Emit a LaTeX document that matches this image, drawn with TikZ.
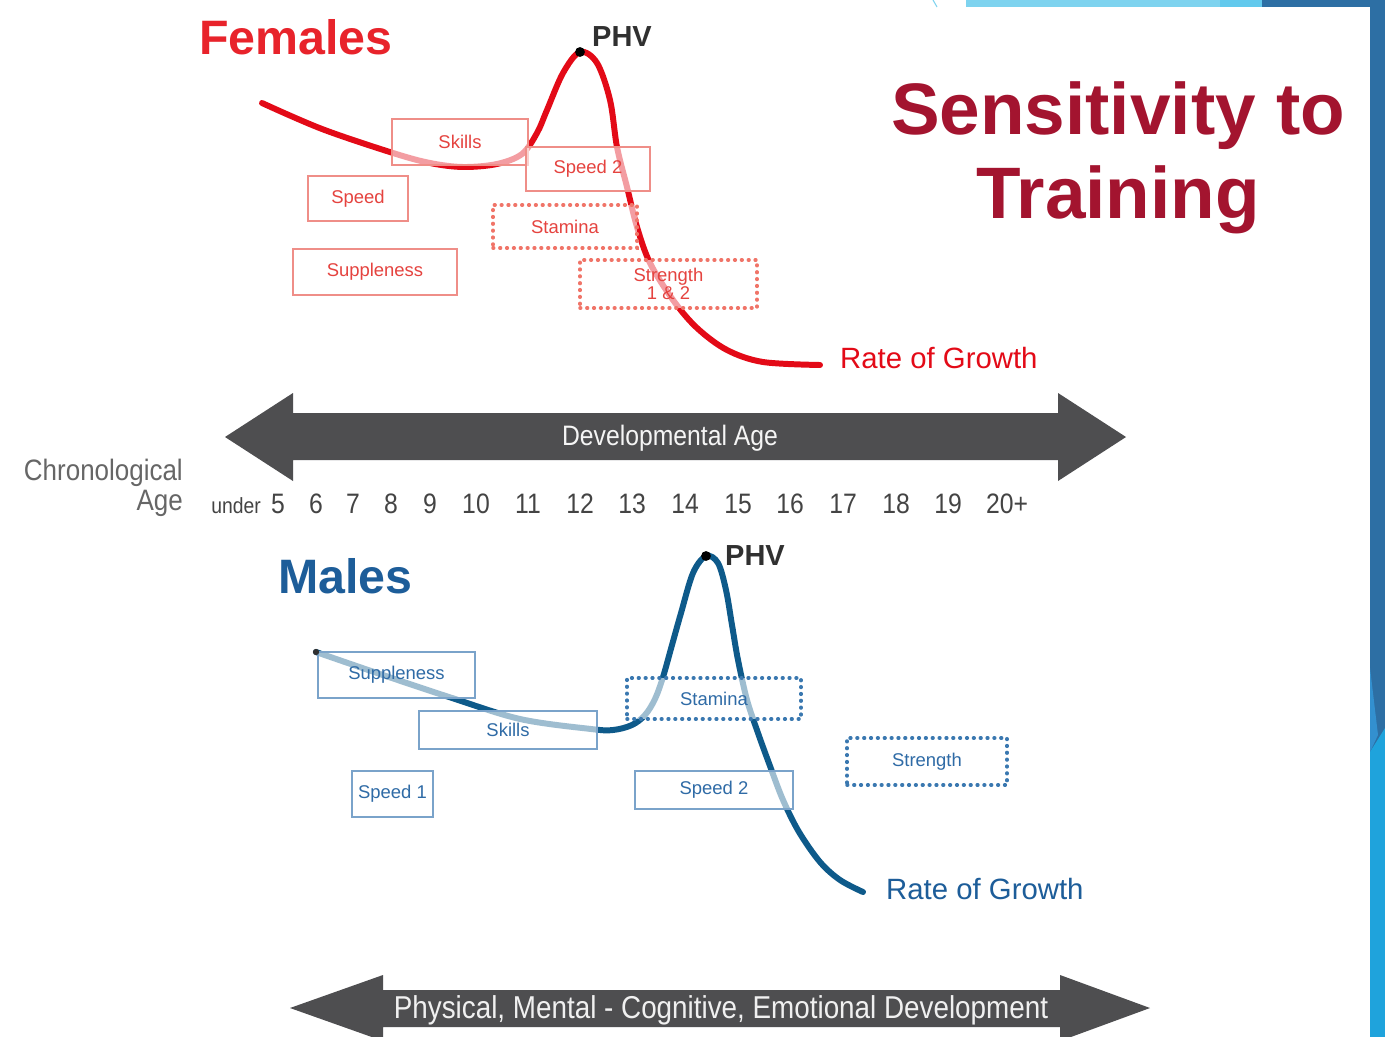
\documentclass[tikz,border=0pt]{standalone}
\usepackage{fontspec}
\setmainfont{Liberation Sans}
\newfontfamily\narrowfont[FakeStretch=0.88]{Liberation Sans}
\usepackage{tikz}
\usetikzlibrary{calc}

\definecolor{femred}{HTML}{E30A17}
\definecolor{femtitle}{HTML}{E8232B}
\definecolor{redline}{HTML}{EF8E88}
\definecolor{redtext}{HTML}{E5433F}
\definecolor{reddots}{HTML}{F07468}
\definecolor{sensred}{HTML}{A3142F}
\definecolor{malblue}{HTML}{0E5A8A}
\definecolor{maltitle}{HTML}{1D5D99}
\definecolor{blueline}{HTML}{7AA3CA}
\definecolor{bluetext}{HTML}{2F6BA6}
\definecolor{bluedots}{HTML}{3A78B0}
\definecolor{bandgray}{HTML}{4E4E50}
\definecolor{agegray}{HTML}{666666}
\definecolor{numgray}{HTML}{444444}
\definecolor{phvgray}{HTML}{303030}
\definecolor{trimdark}{HTML}{2D6FA4}
\definecolor{trimmid}{HTML}{3390CF}
\definecolor{trimlight}{HTML}{1FA3DC}
\definecolor{trimpale}{HTML}{7ED3EF}
\definecolor{trimsky}{HTML}{61C9ED}

\tikzset{
  growth/.style={line width=3.4pt, line cap=round},
  sz/.style 2 args={minimum width=#1*0.02cm, minimum height=#2*0.02cm},
  abox/.style={fill=white, fill opacity=0.6, text opacity=1, inner sep=0pt,
    align=center, font=\fontsize{10.5}{10.5}\selectfont},
  rbox/.style={abox, draw=redline, line width=0.8pt, text=redtext},
  rdots/.style={abox, draw=reddots, line width=2pt, line cap=round,
    dash pattern=on 0.4pt off 3.5pt, text=redtext},
  bbox/.style={abox, draw=blueline, line width=0.8pt, text=bluetext},
  bdots/.style={abox, draw=bluedots, line width=2pt, line cap=round,
    dash pattern=on 0.4pt off 3.5pt, text=bluetext},
  phv/.style={font=\fontsize{16.5}{18}\selectfont\bfseries, text=phvgray, anchor=base west},
  rog/.style={font=\fontsize{16.7}{18}\selectfont, anchor=base west},
  agenum/.style={font=\narrowfont\fontsize{16}{18}\selectfont, text=numgray, anchor=base},
}

\begin{document}
\begin{tikzpicture}[x=0.02cm, y=-0.02cm]
\fill[white] (0,0) rectangle (1385,1037);
\useasboundingbox (0,0) rectangle (1385,1037);

% slide trim
\fill[trimpale] (966,0) rectangle (1222,7);
\fill[trimsky] (1220,0) rectangle (1264,7);
\fill[trimdark] (1262,0) rectangle (1385,7);
\fill[trimdark] (1370,0) rectangle (1385,760);
\fill[trimmid] (1370,668) -- (1378,735) -- (1370,752) -- cycle;
\fill[trimlight] (1370,752) -- (1385,728) -- (1385,1037) -- (1370,1037) -- cycle;
\draw[trimpale, line width=0.6pt] (933,0) -- (937,7);

% titles
\node[font=\fontsize{27.5}{30}\selectfont\bfseries, text=femtitle, anchor=base west] (females) at (193,55) {Females};
\node[font=\fontsize{27.5}{30}\selectfont\bfseries, text=maltitle, anchor=base west] (males) at (272,593) {Males};
\node[font=\fontsize{41.5}{45}\selectfont\bfseries, text=sensred, anchor=base] (sens) at (1118,135) {Sensitivity to};
\node[font=\fontsize{41.5}{45}\selectfont\bfseries, text=sensred, anchor=base] (train) at (1118,218) {Training};

% females
\coordinate (fpeak) at (580,52);
\draw[growth, femred] plot[smooth, tension=0.55] coordinates {(262,103) (322,129) (393,153)
  (430,163) (463,167) (497,164) (522,154) (537,133) (547,110) (563,73) (fpeak) (597,63)
  (610,100) (617,147) (627,187) (637,227) (650,263) (673,300) (697,328) (727,350) (763,362) (820,365)};
\node[rbox, sz={136}{46}] (fskills) at (460,142) {Skills};
\node[rbox, sz={124}{44}] (fspeedb) at (588,169) {Speed 2};
\node[rbox, sz={100}{45}] (fspeed) at (358,198.5) {Speed};
\node[rbox, sz={164}{46}] (fsupple) at (375,272) {Suppleness};
\node[rdots, sz={144}{43}] (fstamina) at (565,226.5) {Stamina};
\node[rdots, sz={177}{48}] (fstrength) at (668.5,284) {Strength\\1 \& 2};
\fill[black] (fpeak) circle (2.8pt);
\node[phv] (fphv) at (586,47) {PHV};
\node[rog, text=femred] (frog) at (834,368) {Rate of Growth};

% ages
\fill[bandgray] (225,437) -- (293,393) -- (293,413) -- (1058,413) -- (1058,393) -- (1126,437)
  -- (1058,481) -- (1058,460) -- (293,460) -- (293,481) -- cycle;
\node[font=\narrowfont\fontsize{16}{18}\selectfont, text=white!92!gray, anchor=base] (devage) at (670,445) {Developmental Age};
\node[font=\narrowfont\fontsize{16.8}{20}\selectfont, text=agegray, anchor=base east] (chrono) at (189,480) {Chronological};
\node[font=\narrowfont\fontsize{16.8}{20}\selectfont, text=agegray, anchor=base east] (chronoage) at (189,510) {Age};
\node[agenum, font=\narrowfont\fontsize{12.5}{14}\selectfont] (under) at (236,513) {under};
\foreach \a/\x [count=\i] in {5/278,6/316,7/353,8/391,9/430,10/476,11/528,12/580,13/632,
    14/685,15/738,16/790,17/843,18/896,19/948,20+/1007}
  \node[agenum] (yr\i) at (\x,513) {\a};

% males
\coordinate (mstart) at (316,652);
\coordinate (mpeak) at (706,556);
\draw[growth, malblue] plot[smooth, tension=0.55] coordinates {(mstart) (377,673) (449,697)
  (520,719) (591,729) (613,730) (632,725) (645,715) (655,699) (663,677) (672,645) (681,613)
  (693,573) (mpeak) (718,563) (726,590) (732,625) (738,660) (747,700) (758,733) (770,766)
  (783,800) (799,832) (820,862) (840,880) (863,892)};
\node[bbox, sz={157}{46}] (msupple) at (396.5,675) {Suppleness};
\node[bbox, sz={178}{38}] (mskills) at (508,730) {Skills};
\node[bbox, sz={81}{46}] (mspeed) at (392.5,794) {Speed 1};
\node[bdots, sz={174}{41}] (mstamina) at (714,698.5) {Stamina};
\node[bbox, sz={158}{38}] (mspeedb) at (714,790) {Speed 2};
\node[bdots, sz={160}{47}] (mstrength) at (927,761.5) {Strength};
\fill[phvgray] (mstart) circle (1.8pt);
\fill[black] (mpeak) circle (2.8pt);
\node[phv] (mphv) at (719,565) {PHV};
\node[rog, text=maltitle] (mrog) at (880,899) {Rate of Growth};

% development band
\fill[bandgray] (290,1008) -- (383,975) -- (383,990) -- (1060,990) -- (1060,975) -- (1150,1008)
  -- (1060,1041) -- (1060,1027) -- (383,1027) -- (383,1041) -- cycle;
\node[font=\narrowfont\fontsize{18}{20}\selectfont, text=white!88!gray, anchor=base] (develop) at (721,1018)
  {Physical, Mental - Cognitive, Emotional Development};
\end{tikzpicture}
\end{document}
